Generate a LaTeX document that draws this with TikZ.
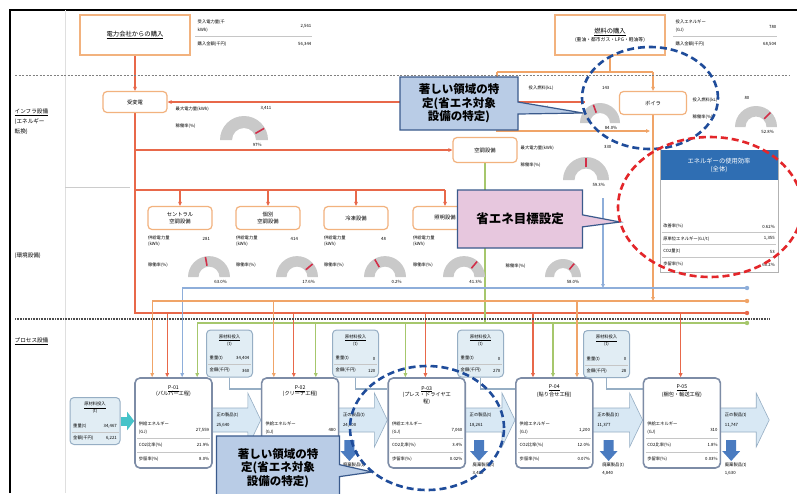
\documentclass[tikz,border=0pt]{standalone}
\usepackage{fontspec}
\setmainfont{Noto Sans CJK JP}
\usetikzlibrary{positioning,calc,arrows.meta,shapes.callouts,backgrounds}

\definecolor{boxorange}{HTML}{F2B27E}
\definecolor{linered}{HTML}{E8684A}
\definecolor{lineorange}{HTML}{F0A468}
\definecolor{lineblue}{HTML}{8EAEDA}
\definecolor{linegreen}{HTML}{A6C76C}
\definecolor{procborder}{HTML}{7D8CA6}
\definecolor{matfill}{HTML}{E1EDF4}
\definecolor{matborder}{HTML}{96AEC4}
\definecolor{prodfill}{HTML}{D8E8F4}
\definecolor{wasteblue}{HTML}{4A7BC0}
\definecolor{effblue}{HTML}{2F6EB3}
\definecolor{gaugegray}{HTML}{C9C9C9}
\definecolor{needlered}{HTML}{D22E48}
\definecolor{calloutblue}{HTML}{B9CCE6}
\definecolor{calloutpink}{HTML}{E7C7DE}
\definecolor{calloutline}{HTML}{3A5A8C}
\definecolor{circleblue}{HTML}{1F4C9A}
\definecolor{circlered}{HTML}{E3262A}
\definecolor{tealarrow}{HTML}{46C3C9}

% half ring gauge: centre, radius, needle angle, label
\newcommand{\gaugeat}[4]{%
  \fill[gaugegray] (#1) ++(#2pt,0pt) arc[start angle=0,end angle=180,radius=#2pt]
    -- ++(#2*0.5pt,0pt) arc[start angle=180,end angle=0,radius=#2*0.5pt] -- cycle;
  \draw[needlered,line width=1.6pt] (#1) ++(#3:#2*0.55pt) -- ++(#3:#2*0.42pt);
  \node[tinytxt] at ($(#1)+(#2*0.55,5)$) {#4};
}
\newcommand{\envinfo}[5]{%
  \node[tinytxt,anchor=west] at ($(#1.south west)+(0,8)$) {供給電力量};
  \node[tinytxt,anchor=west] at ($(#1.south west)+(0,14)$) {(kWh)};
  \node[tinytxt,anchor=east] at ($(#1.south east)+(-2,9)$) {#2};
  \node[tinytxt,anchor=west] at ($(#1.south west)+(0,35)$) {稼働率(\%)};
  \coordinate (#1g) at ($(#1.south)+(#4,47)$);
  \gaugeat{#1g}{21}{#5}{#3}
}
\newcommand{\procrows}[4]{%
  \node[tinytxt,anchor=west] at ($(#1.north west)+(4,47)$) {供給エネルギー};
  \node[tinytxt,anchor=west] at ($(#1.north west)+(4,55)$) {(GJ)};
  \node[tinytxt,anchor=east] at ($(#1.north east)+(-3,53)$) {#2};
  \draw[rowline] ($(#1.north west)+(3,61)$) -- ($(#1.north east)+(-3,61)$);
  \node[tinytxt,anchor=west] at ($(#1.north west)+(4,68)$) {CO2比率(\%)};
  \node[tinytxt,anchor=east] at ($(#1.north east)+(-3,68)$) {#3};
  \draw[rowline] ($(#1.north west)+(3,75)$) -- ($(#1.north east)+(-3,75)$);
  \node[tinytxt,anchor=west] at ($(#1.north west)+(4,82)$) {歩留率(\%)};
  \node[tinytxt,anchor=east] at ($(#1.north east)+(-3,82)$) {#4};
}
\newcommand{\matrows}[3]{%
  \node[tinytxt,align=center] at ($(#1.north)+(0,11)$) {\underline{原材料投入}\\(t)};
  \node[tinytxt,anchor=west] at ($(#1.north west)+(3,29)$) {重量(t)};
  \node[tinytxt,anchor=east] at ($(#1.north east)+(-3,29)$) {#2};
  \draw[rowline] ($(#1.north west)+(2,35)$) -- ($(#1.north east)+(-2,35)$);
  \node[tinytxt,anchor=west] at ($(#1.north west)+(3,41)$) {金額(千円)};
  \node[tinytxt,anchor=east] at ($(#1.north east)+(-3,41)$) {#3};
}
\newcommand{\prodarrow}[2]{%
  \draw[prodflow] ($(#1)+(0,-12)$) -- ($(#2)+(-13,-12)$) -- ($(#2)+(-13,-27)$) -- (#2)
    -- ($(#2)+(-13,27)$) -- ($(#2)+(-13,12)$) -- ($(#1)+(0,12)$) -- cycle;
}
\newcommand{\wastearrow}[3]{%
  \fill[wasteblue] ($(#1)+(-5,0)$) -- ($(#1)+(5,0)$) -- ($(#1)+(5,11)$) -- ($(#1)+(9,11)$)
    -- ($(#1)+(0,21)$) -- ($(#1)+(-9,11)$) -- ($(#1)+(-5,11)$) -- cycle;
  \node[tinytxt,anchor=west] at ($(#1)+(-7,25)$) {#2};
  \node[tinytxt,anchor=west] at ($(#1)+(-7,33)$) {#3};
}

\begin{document}
\begin{tikzpicture}[x=1pt,y=-1pt,
  tinytxt/.style={font=\fontsize{4.3}{5.2}\selectfont, inner sep=0.5pt},
  smalltxt/.style={font=\fontsize{5.6}{7}\selectfont, inner sep=0.5pt},
  buybox/.style={draw=boxorange, line width=1.6pt, fill=white, minimum width=110pt, minimum height=40pt, align=center, font=\fontsize{6.3}{8}\selectfont},
  infbox/.style={draw=boxorange, line width=1.2pt, rounded corners=4pt, fill=white, minimum width=64pt, minimum height=21pt, align=center, font=\fontsize{5.3}{6.5}\selectfont},
  envbox/.style={infbox, minimum height=23pt},
  procbox/.style={draw=procborder, line width=1.6pt, rounded corners=5pt, fill=white, minimum width=77pt, minimum height=90pt},
  proctitle/.style={font=\fontsize{5.2}{6.4}\selectfont, align=center, inner sep=0.5pt},
  matbox/.style={draw=matborder, line width=1pt, fill=matfill, rounded corners=4pt, minimum width=46pt, minimum height=47pt},
  rowline/.style={gray!45, line width=0.4pt},
  feed/.style={-{Triangle[length=4pt,width=3.5pt]}},
  redline/.style={linered, line width=1.3pt},
  orangeline/.style={lineorange, line width=1.3pt},
  blueline/.style={lineblue, line width=1.1pt},
  greenline/.style={linegreen, line width=1.1pt},
  matline/.style={matborder, line width=1.6pt},
  prodflow/.style={fill=prodfill, draw=matborder, line width=0.6pt},
  notebox/.style={rectangle callout, draw=calloutline, line width=1.2pt, align=center, font=\fontsize{11.5}{13.5}\selectfont\bfseries, callout pointer width=12pt},
  ring/.style={dash pattern=on 7pt off 4pt, line width=2.6pt}
]
\useasboundingbox (0,0) rectangle (797,493);
\clip (0,0) rectangle (797,493);

% frame and bands
\draw[line width=1.2pt] (10,493) -- (10,10) -- (797,10);
\draw[gray!25] (65,10) -- (65,493);
\draw[gray, dash pattern=on 2pt off 1.5pt] (15,75) -- (790,75);
\draw[gray!40] (65,187) -- (130,187);
\draw[black!70, dash pattern=on 0.8pt off 0.8pt, line width=1.2pt] (15,319) -- (770,319);

\node[smalltxt,anchor=west] (lbinf) at (14,112) {\underline{インフラ設備}};
\node[smalltxt,anchor=west] at (14,122) {(エネルギー};
\node[smalltxt,anchor=west] at (14,132) {転換)};
\node[smalltxt,anchor=west] (lbenv) at (14,256) {(環境設備)};
\node[smalltxt,anchor=west] (lbproc) at (14,341) {\underline{プロセス設備}};

% purchase
\node[buybox] (buyE) at (135,35) {\underline{電力会社からの購入}};
\node[buybox] (buyF) at (610,35) {\underline{燃料の購入}\\{\fontsize{4.8}{6}\selectfont(重油・都市ガス・LPG・軽油等)}};
\node[tinytxt,anchor=west] at (197,22) {受入電力量(千};
\node[tinytxt,anchor=west] at (197,30) {kWh)};
\node[tinytxt,anchor=east] at (312,26) {2,561};
\draw[rowline] (195,36) -- (312,36);
\node[tinytxt,anchor=west] at (197,44) {購入金額(千円)};
\node[tinytxt,anchor=east] at (312,44) {56,344};
\node[tinytxt,anchor=west] at (675,22) {投入エネルギー};
\node[tinytxt,anchor=west] at (675,30) {(GJ)};
\node[tinytxt,anchor=east] at (777,27) {780};
\draw[rowline] (673,36) -- (777,36);
\node[tinytxt,anchor=west] at (675,44) {購入金額(千円)};
\node[tinytxt,anchor=east] at (777,44) {68,504};

% infrastructure
\node[infbox] (juhen) at (135,102) {受変電};
\node[infbox, minimum height=25pt] (kucho) at (485,150) {空調設備};
\node[infbox, minimum width=67pt, minimum height=23pt] (boira) at (653,103) {ボイラ};

% environment
\node[envbox] (env1) at (180,218) {セントラル\\空調設備};
\node[envbox] (env2) at (268,218) {個別\\空調設備};
\node[envbox] (env3) at (356,218) {冷凍設備};
\node[envbox] (env4) at (445,218) {照明設備};

% efficiency
\node[draw=gray!60, line width=0.8pt, fill=white, minimum width=118pt, minimum height=122pt] (eff) at (719,211) {};
\node[fill=effblue, text=white, minimum width=117pt, minimum height=30pt, align=center, font=\fontsize{6.3}{8.5}\selectfont, anchor=north] (effh) at ([yshift=-0.5pt]eff.north) {エネルギーの使用効率\\(全体)};

% process
\node[procbox] (p1) at (173.5,423) {};
\node[procbox, right=48pt of p1] (p2) {};
\node[procbox, right=48pt of p2] (p3) {};
\node[procbox, right=49pt of p3] (p4) {};
\node[procbox, right=49pt of p4] (p5) {};
\node[matbox, minimum width=50pt] (m0) at (95,421) {};
\node[matbox] (m1) at (229.5,353.5) {};
\node[matbox] (m2) at (355.5,353.5) {};
\node[matbox] (m3) at (480.5,353.5) {};
\node[matbox] (m4) at (606.5,354) {};

\coordinate (bB) at (747,288);
\coordinate (bO) at (747,301);
\coordinate (bR) at (747,313);
\coordinate (bG) at (747,323);
\coordinate (p1o) at ($(p1.north west)+(18,0)$);
\coordinate (p1r) at ($(p1.north west)+(33,0)$);
\coordinate (p1b) at ($(p1.north west)+(48,0)$);
\coordinate (p1g) at ($(p1.north west)+(63,0)$);
\coordinate (p2o) at ($(p2.north west)+(13,0)$);
\coordinate (p2r) at ($(p2.north west)+(33,0)$);
\coordinate (p2g) at ($(p2.north west)+(55,0)$);
\coordinate (p3g) at ($(p3.north west)+(18,0)$);
\coordinate (p3r) at ($(p3.north west)+(38,0)$);
\coordinate (p4r) at ($(p4.north west)+(18,0)$);
\coordinate (p4g) at ($(p4.north west)+(38,0)$);
\coordinate (p4o) at ($(p4.north west)+(62,0)$);
\coordinate (p5r) at ($(p5.north west)+(38,0)$);

\begin{scope}[on background layer]
\fill[white] (0,0) rectangle (797,493);
\draw[redline,feed] (buyE.south) -- (juhen.north);
\coordinate (cogen) at (585,102);
\draw[redline,feed] (cogen) -- (juhen.east);
\draw[redline] (juhen.south) |- (bR);
\draw[redline,feed] (juhen.south |- kucho.west) -- (kucho.west);
\coordinate (eb) at (135,190);
\draw[redline] (eb) -- (eb -| env4.north);
\foreach \e in {env1,env2,env3,env4}
  \draw[redline,feed] (eb -| \e.north) -- (\e.north);

\coordinate (fl) at (497,72);
\coordinate (fr) at (653,72);
\coordinate (fb) at (650,131);
\draw[orangeline] (buyF.south) -- (buyF.south |- fl);
\draw[orangeline] (fl) -- (fr);
\draw[orangeline,feed] (fr) -- (boira.north);
\draw[orangeline,feed] (fl) |- (fb);
\draw[orangeline,feed] (boira.south) -- (boira.south |- bO);
\draw[greenline] (kucho.south) -- (kucho.south |- bG);
\coordinate (bs) at (603,198);
\draw[blueline,feed] (bs) -- (bs |- bB);

\draw[blueline,feed] (bB) -| (p1b);
\draw[orangeline,feed] (bO) -| (p1o);
\draw[greenline,feed] (bG) -| (p1g);
\foreach \d in {p1r,p2r,p3r,p4r,p5r}
  \draw[redline,feed] (\d |- bR) -- (\d);
\foreach \d in {p2o,p4o}
  \draw[orangeline,feed] (\d |- bO) -- (\d);
\foreach \d in {p2g,p3g,p4g}
  \draw[greenline,feed] (\d |- bG) -- (\d);

\coordinate (p2in) at ($(p2.north west)+(0,12)$);
\coordinate (p3in) at ($(p3.north west)+(0,12)$);
\coordinate (p4in) at ($(p4.north west)+(0,12)$);
\coordinate (p5in) at ($(p5.north west)+(0,12)$);
\draw[matline] (m1.south) |- (p2in);
\draw[matline] (m2.south) |- (p3in);
\draw[matline] (m3.south) |- (p4in);
\draw[matline] (m4.south) |- (p5in);

\coordinate (a1) at ($(p1.east)+(-3,-3)$);
\coordinate (t1) at ($(p2.west)+(0,-3)$);
\coordinate (a2) at ($(p2.east)+(-3,-3)$);
\coordinate (t2) at ($(p3.west)+(0,-3)$);
\coordinate (a3) at ($(p3.east)+(-3,-3)$);
\coordinate (t3) at ($(p4.west)+(0,-3)$);
\coordinate (a4) at ($(p4.east)+(-3,-3)$);
\coordinate (t4) at ($(p5.west)+(0,-3)$);
\coordinate (a5) at ($(p5.east)+(-3,-3)$);
\coordinate (t5) at ($(p5.east)+(48,-3)$);
\prodarrow{a1}{t1}
\prodarrow{a2}{t2}
\prodarrow{a3}{t3}
\prodarrow{a4}{t4}
\prodarrow{a5}{t5}
\end{scope}

\draw[tealarrow, line width=9pt, -{Triangle[length=7pt,width=18pt]}] (m0.east) -- (m0.east -| p1.west);
\fill[lineblue] (bB) circle (2.2pt);
\fill[lineorange] (bO) circle (2.2pt);
\fill[linered] (bR) circle (2.2pt);
\fill[linegreen] (bG) circle (2.2pt);

% infrastructure data
\node[tinytxt,anchor=west] at (175,109) {最大電力量(kWh)};
\node[tinytxt,anchor=east] at (272,108) {3,411};
\node[tinytxt,anchor=west] at (175,126) {稼働率(\%)};
\coordinate (gj) at (244,140);
\gaugeat{gj}{24}{30}{97\%}
\node[tinytxt,anchor=west] at (528,88) {投入燃料(kL)};
\node[tinytxt,anchor=east] at (610,88) {143};
\node[tinytxt,anchor=west] at (528,108) {稼働率(\%)};
\coordinate (gc) at (600,123);
\gaugeat{gc}{20}{110}{84.0\%}
\node[tinytxt,anchor=west] at (692,100) {投入燃料(kL)};
\node[tinytxt,anchor=east] at (750,98) {80};
\node[tinytxt,anchor=west] at (692,117) {稼働率(\%)};
\coordinate (gb) at (756,127);
\gaugeat{gb}{21}{45}{52.8\%}
\node[tinytxt,anchor=west] at (520,148) {最大電力量(kWh)};
\node[tinytxt,anchor=east] at (612,147) {330};
\node[tinytxt,anchor=west] at (520,165) {稼働率(\%)};
\coordinate (gk) at (586,180);
\gaugeat{gk}{23}{90}{59.3\%}

\envinfo{env1}{281}{63.0\%}{29}{100}
\envinfo{env2}{414}{17.6\%}{29}{40}
\envinfo{env3}{48}{0.2\%}{29}{120}
\envinfo{env4}{162}{41.3\%}{19}{50}
\node[tinytxt,anchor=west] at (505,266) {稼働率(\%)};
\coordinate (g5) at (563,277);
\gaugeat{g5}{18}{50}{58.0\%}

% efficiency rows
\node[tinytxt,anchor=west] at ($(eff.north west)+(3,77)$) {改善率(\%)};
\node[tinytxt,anchor=east] at ($(eff.north east)+(-3,77)$) {0.62\%};
\draw[rowline] ($(eff.north west)+(2,83)$) -- ($(eff.north east)+(-2,83)$);
\node[tinytxt,anchor=west] at ($(eff.north west)+(3,89)$) {原単位エネルギー(GJ/t)};
\node[tinytxt,anchor=east] at ($(eff.north east)+(-3,89)$) {1,355};
\draw[rowline] ($(eff.north west)+(2,95)$) -- ($(eff.north east)+(-2,95)$);
\node[tinytxt,anchor=west] at ($(eff.north west)+(3,102)$) {CO2量(t)};
\node[tinytxt,anchor=east] at ($(eff.north east)+(-3,102)$) {53};
\draw[rowline] ($(eff.north west)+(2,108)$) -- ($(eff.north east)+(-2,108)$);
\node[tinytxt,anchor=west] at ($(eff.north west)+(3,115)$) {歩留率(\%)};
\node[tinytxt,anchor=east] at ($(eff.north east)+(-3,115)$) {60.2\%};

% process contents
\node[proctitle] at ($(p1.north)+(0,14)$) {\underline{P-01}\\(パルパー工程)};
\node[proctitle] at ($(p2.north)+(0,14)$) {\underline{P-02}\\(クリーナ工程)};
\node[proctitle] at ($(p3.north)+(0,18)$) {\underline{P-03}\\(プレス・ドライヤ工\\程)};
\node[proctitle] at ($(p4.north)+(0,14)$) {\underline{P-04}\\(貼り合せ工程)};
\node[proctitle] at ($(p5.north)+(0,14)$) {\underline{P-05}\\(梱包・輸送工程)};
\procrows{p1}{27,559}{21.9\%}{8.0\%}
\procrows{p2}{480}{2.6\%}{0.1\%}
\procrows{p3}{7,060}{3.4\%}{0.02\%}
\procrows{p4}{1,200}{12.0\%}{0.07\%}
\procrows{p5}{310}{1.8\%}{0.03\%}
\matrows{m0}{34,467}{6,221}
\matrows{m1}{34,404}{360}
\matrows{m2}{0}{120}
\matrows{m3}{0}{270}
\matrows{m4}{0}{28}

\foreach \a/\v in {a1/{25,640},a2/{24,800},a3/{18,261},a4/{11,377},a5/{11,747}}{
  \node[tinytxt,anchor=west] at ($(\a)+(6,-5)$) {正の製品(t)};
  \node[tinytxt,anchor=west] at ($(\a)+(6,5)$) {\v};
}
\coordinate (w2) at ($(p2.east)+(10,17)$);
\coordinate (w3) at ($(p3.east)+(13,17)$);
\coordinate (w4) at ($(p4.east)+(15,17)$);
\coordinate (w5) at ($(p5.east)+(10,17)$);
\wastearrow{w2}{廃棄製品(t)}{6,490}
\wastearrow{w3}{廃棄製品(t)}{3,420}
\wastearrow{w4}{廃棄製品(t)}{4,840}
\wastearrow{w5}{廃棄製品(t)}{1,630}

% notes
\coordinate (pt1) at (583,113);
\coordinate (pt2) at (620,222);
\coordinate (pt3) at (372,472);
\node[notebox, fill=calloutblue, minimum width=118pt, minimum height=53pt, callout absolute pointer={(pt1)}] (note1) at (459,103.5) {著しい領域の特\\定(省エネ対象\\設備の特定)};
\node[notebox, fill=calloutpink, minimum width=125pt, minimum height=58pt, font=\fontsize{12.5}{14}\selectfont\bfseries, callout absolute pointer={(pt2)}] (note2) at (520,219) {省エネ目標設定};
\node[notebox, fill=calloutblue, minimum width=123pt, minimum height=64pt, callout absolute pointer={(pt3)}] (note3) at (278,468) {著しい領域の特\\定(省エネ対象\\設備の特定)};

\draw[circleblue, ring] (650,98) ellipse [x radius=68pt, y radius=51pt];
\draw[circlered, ring] (710,207) ellipse [x radius=92pt, y radius=70pt];
\draw[circleblue, ring] (427,428) ellipse [x radius=77pt, y radius=62pt];
\end{tikzpicture}
\end{document}
